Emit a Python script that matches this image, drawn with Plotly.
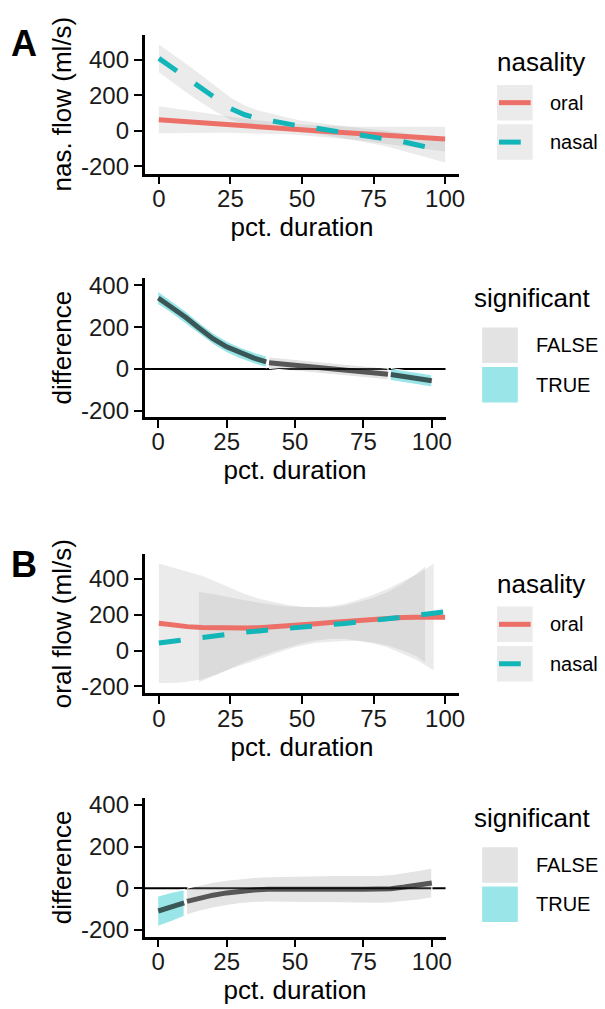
import plotly.graph_objects as go

# ---------------- data ----------------
# Panel A (top): nasal flow smooths
a_x = [0, 5, 10, 15, 20, 25, 30, 35, 40, 45, 50, 55, 60, 65, 70, 75, 80, 85, 90, 95, 100]
a_oral_fit = [63, 58, 51, 45, 39, 34, 28, 23, 17, 12, 6, 1, -5, -10, -15, -20, -26, -31, -36, -41, -46]
a_oral_se = [76, 69, 62, 56, 50, 45, 40, 36, 33, 31, 30, 31, 32, 35, 38, 43, 48, 53, 58, 64, 70]
a_nasal_fit = [409, 351, 293, 235, 178, 126, 91, 68, 55, 38, 25, 15, 3, -9, -20, -32, -45, -60, -78, -96, -115]
a_nasal_se = [78, 80, 80, 78, 72, 62, 52, 45, 40, 36, 33, 32, 32, 34, 37, 40, 44, 49, 54, 59, 63]

# Panel A (bottom): difference smooth
a_diff_x = [0, 5, 10, 15, 20, 25, 30, 35, 39.5, 40.5, 45, 50, 55, 60, 65, 70, 75, 80, 84, 85, 90, 95, 100]
a_diff_fit = [340, 295, 248, 195, 145, 106, 76, 52, 34, 30, 24, 18, 12, 6, 0, -6, -13, -20, -25, -27, -37, -47, -57]
a_diff_se = [32, 31, 30, 29, 28, 28, 28, 28, 28, 28, 28, 28, 28, 28, 28, 28, 28, 28, 29, 29, 29, 29, 30]
a_diff_sig = [True] * 9 + [False] * 10 + [True] * 4

# Panel B (top): oral flow smooths
b_x = [0, 5, 10, 15, 20, 25, 30, 35, 40, 45, 50, 55, 60, 65, 70, 75, 80, 85, 90, 95, 100]
b_oral_fit = [153, 142, 134, 129, 126, 125, 126, 128, 132, 137, 143, 150, 157, 164, 170, 176, 181, 185, 187, 188, 187]
b_nasal_fit = [42, 52, 64, 78, 89, 97, 103, 110, 118, 127, 136, 142, 146, 152, 163, 170, 178, 187, 199, 209, 217]
b_oral_band_x = [0, 5, 10, 15, 20, 25, 30, 35, 40, 45, 50, 55, 60, 65, 70, 75, 80, 85, 90, 96]
b_oral_hi = [487, 465, 442, 418, 385, 350, 316, 290, 271, 255, 245, 243, 248, 262, 285, 312, 345, 385, 425, 485]
b_oral_lo = [-181, -181, -174, -160, -133, -100, -64, -34, -7, 19, 41, 57, 66, 66, 55, 40, 17, -15, -51, -109]
b_nasal_band_x = [14, 20, 25, 30, 35, 40, 45, 50, 55, 60, 65, 70, 75, 80, 85, 90, 93]
b_nasal_hi = [327, 314, 297, 281, 267, 256, 247, 243, 240, 241, 250, 271, 295, 328, 372, 429, 470]
b_nasal_lo = [-177, -136, -103, -75, -47, -20, 7, 29, 44, 51, 54, 55, 45, 28, 2, -31, -65]

# Panel B (bottom): difference smooth
b_diff_x = [0, 5, 9.5, 10.5, 15, 20, 25, 30, 35, 40, 45, 50, 55, 60, 65, 70, 75, 80, 85, 90, 95, 100]
b_diff_fit = [-109, -88, -70, -63, -48, -33, -22, -13, -8, -5, -4, -4, -4, -4, -4, -4, -5, -5, -2, 6, 15, 26]
b_diff_se = [73, 70, 64, 64, 63, 62, 61, 60, 60, 61, 62, 63, 64, 65, 66, 66, 67, 67, 68, 69, 71, 72]
b_diff_sig = [True] * 3 + [False] * 19

x_ticks = [0, 25, 50, 75, 100]
x_ticktext = ["0", "25", "50", "75", "100"]
y_ticks = [-200, 0, 200, 400]
y_ticktext = ["-200", "0", "200", "400"]

nasality_levels = ["oral", "nasal"]
signif_levels = ["FALSE", "TRUE"]

# ---------------- styling ----------------
W, H = 605, 1009
FONT = "Liberation Sans, Arial, Helvetica, sans-serif"
RED = "#EC6F68"
TEAL = "#12B5B8"
BAND_GREY = "rgba(153,153,153,0.2)"
SIG_FALSE = "rgba(150,150,150,0.26)"
SIG_TRUE = "rgba(0,191,196,0.4)"
DIFF_LINE = "rgba(0,0,0,0.62)"


def px(x):
    return x / W


def py(y):
    return 1 - y / H


fig = go.Figure()


def add_band(x, lo, hi, fill, xa, ya, outline=None):
    fig.add_trace(go.Scatter(
        x=list(x) + list(x)[::-1], y=list(hi) + list(lo)[::-1],
        fill="toself", fillcolor=fill, mode="lines",
        line=dict(width=1.2 if outline else 0, color=outline or "rgba(0,0,0,0)"),
        hoverinfo="skip", showlegend=False, xaxis=xa, yaxis=ya))


def add_line(x, y, color, xa, ya, dash="solid", width=5):
    fig.add_trace(go.Scatter(
        x=x, y=y, mode="lines", line=dict(color=color, width=width, dash=dash),
        hoverinfo="skip", showlegend=False, xaxis=xa, yaxis=ya))


# Panel A top
add_band(a_x, [f - s for f, s in zip(a_oral_fit, a_oral_se)],
         [f + s for f, s in zip(a_oral_fit, a_oral_se)], BAND_GREY, "x", "y")
add_band(a_x, [f - s for f, s in zip(a_nasal_fit, a_nasal_se)],
         [f + s for f, s in zip(a_nasal_fit, a_nasal_se)], BAND_GREY, "x", "y")
add_line(a_x, a_oral_fit, RED, "x", "y")
add_line(a_x, a_nasal_fit, TEAL, "x", "y", dash="22px,22px")


def add_diff(xs, fit, se, sig, xa, ya):
    runs = []
    start = 0
    for i in range(1, len(xs) + 1):
        if i == len(xs) or sig[i] != sig[start]:
            runs.append((start, i, sig[start]))
            start = i
    for s, e, flag in runs:
        xx = xs[s:e]
        ff = fit[s:e]
        ss = se[s:e]
        add_band(xx, [f - q for f, q in zip(ff, ss)], [f + q for f, q in zip(ff, ss)],
                 SIG_TRUE if flag else SIG_FALSE, xa, ya, outline="white")
        add_line(xx, ff, DIFF_LINE, xa, ya, width=5)


add_diff(a_diff_x, a_diff_fit, a_diff_se, a_diff_sig, "x2", "y2")

# Panel B top
add_band(b_oral_band_x, b_oral_lo, b_oral_hi, BAND_GREY, "x3", "y3")
add_band(b_nasal_band_x, b_nasal_lo, b_nasal_hi, BAND_GREY, "x3", "y3")
add_line(b_x, b_oral_fit, RED, "x3", "y3")
add_line(b_x, b_nasal_fit, TEAL, "x3", "y3", dash="22px,22px")

add_diff(b_diff_x, b_diff_fit, b_diff_se, b_diff_sig, "x4", "y4")

# zero lines for the difference panels
for xa, ya in (("x2", "y2"), ("x4", "y4")):
    fig.add_shape(type="line", xref=f"{xa} domain", yref=ya, x0=0, x1=1, y0=0, y1=0,
                  line=dict(color="black", width=2), layer="below")


def axis(domain, rng, anchor, ticks, text, title, standoff, label_shift=0):
    return dict(domain=domain, range=rng, anchor=anchor, showline=True, linecolor="black",
                linewidth=2.5, ticks="outside", ticklen=8, tickwidth=2, tickcolor="black",
                showgrid=False, zeroline=False, tickvals=ticks, ticktext=text,
                ticklabelstandoff=label_shift,
                tickfont=dict(size=24, color="#1a1a1a", family=FONT),
                title=dict(text=title, font=dict(size=26, color="black", family=FONT),
                           standoff=standoff),
                fixedrange=True)


xw = [px(146), px(464)]
xn = [px(146), px(450)]
d1 = [py(169), py(28)]
d2 = [py(415.7), py(275)]
d3 = [py(695.7), py(555)]
d4 = [py(942.7), py(802.3)]

XS = -6   # pull x tick labels a little closer to the ticks
fig.update_layout(
    width=W, height=H, margin=dict(l=0, r=0, t=0, b=0),
    paper_bgcolor="white", plot_bgcolor="white", showlegend=False,
    font=dict(family=FONT, color="black"),
    xaxis=axis(xw, [-5, 105], "y", x_ticks, x_ticktext, "pct. duration", 7, XS),
    yaxis=axis(d1, [-241, 543], "x", y_ticks, y_ticktext, "nas. flow (ml/s)", 2),
    xaxis2=axis(xn, [-5, 105], "y2", x_ticks, x_ticktext, "pct. duration", 7, XS),
    yaxis2=axis(d2, [-230, 435], "x2", y_ticks, y_ticktext, "difference", 2),
    xaxis3=axis(xw, [-5, 105], "y3", x_ticks, x_ticktext, "pct. duration", 7, XS),
    yaxis3=axis(d3, [-237, 538], "x3", y_ticks, y_ticktext, "oral flow (ml/s)", 2),
    xaxis4=axis(xn, [-5, 105], "y4", x_ticks, x_ticktext, "pct. duration", 7, XS),
    yaxis4=axis(d4, [-232, 433], "x4", y_ticks, y_ticktext, "difference", 2),
)

shapes = []
annotations = []


def text(x, y, s, size, bold=False, xanchor="left"):
    annotations.append(dict(x=px(x), y=py(y), xref="paper", yref="paper", text=f"<b>{s}</b>" if bold else s,
                            showarrow=False, xanchor=xanchor, yanchor="middle",
                            font=dict(size=size, family=FONT, color="black")))


def rect(x0, y0, x1, y1, color):
    shapes.append(dict(type="rect", xref="paper", yref="paper", x0=px(x0), x1=px(x1),
                       y0=py(y1), y1=py(y0), fillcolor=color, line=dict(width=0), layer="above"))


def seg(x0, x1, y, color, width=5):
    shapes.append(dict(type="line", xref="paper", yref="paper", x0=px(x0), x1=px(x1),
                       y0=py(y), y1=py(y), line=dict(color=color, width=width), layer="above"))


# panel letters
text(24, 37, "A", 36, bold=True, xanchor="center")
text(24, 565, "B", 36, bold=True, xanchor="center")

# nasality legends
for off in (0, 529):
    text(500, 56 + off, "nasality", 26)
    rect(502, 79 + off, 538, 115 + off, "#ebebeb")
    rect(502, 119 + off, 538, 155 + off, "#ebebeb")
    seg(504, 536, 97 + off, RED)
    seg(504, 526, 137 + off, TEAL)
    text(553, 97 + off, nasality_levels[0], 20)
    text(553, 137 + off, nasality_levels[1], 20)

# significance legends
for off in (0, 527):
    text(477, 295 + off, "significant", 26)
    rect(487, 325 + off, 523, 361 + off, "#e3e3e3")
    rect(487, 365 + off, 523, 401 + off, "#99e5e7")
    text(539, 343 + off, signif_levels[0], 20)
    text(539, 383 + off, signif_levels[1], 20)

fig.update_layout(shapes=list(fig.layout.shapes) + shapes, annotations=annotations)

fig.write_html(
    "out.html",
    config={"displayModeBar": False},
    post_script="document.body.style.margin='0';document.body.style.padding='0';"
                "document.body.style.overflow='hidden';",
)
